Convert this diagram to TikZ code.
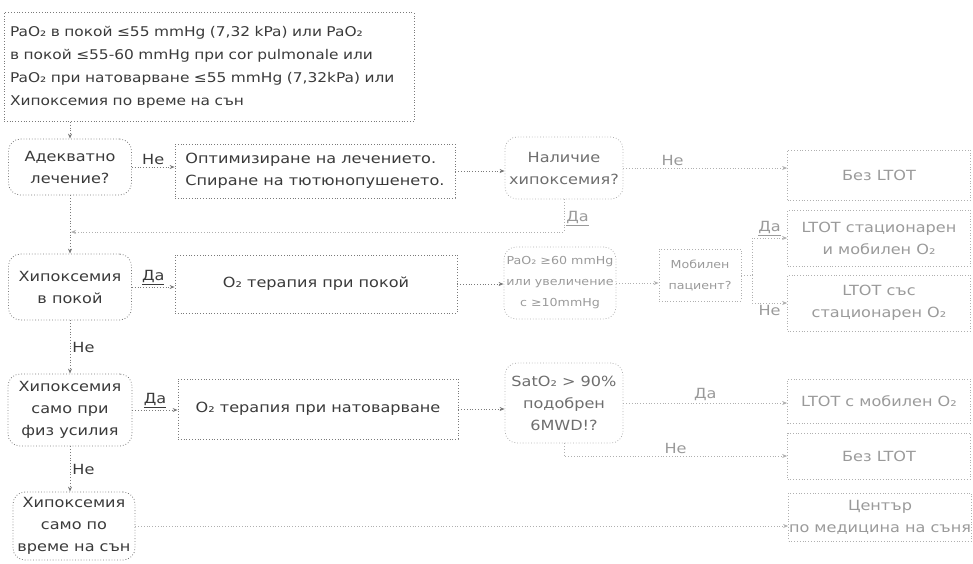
\documentclass[tikz,border=0pt]{standalone}
\usepackage{fontspec}
\setmainfont{DejaVu Sans}[FakeStretch=1.15]
\usepackage{tikz}
\usetikzlibrary{arrows.meta,positioning}
\definecolor{inkG}{HTML}{3A3A3A}
\definecolor{inkM}{HTML}{6E6E6E}
\definecolor{inkL}{HTML}{9A9A9A}
\definecolor{lnG}{HTML}{7A7A7A}
\definecolor{lnL}{HTML}{B0B0B0}
\tikzset{
  sqbox/.style={draw=lnG, dotted, line width=0.8pt, text=inkG, align=center,
        inner sep=0pt, font=\fontsize{14}{22}\selectfont},
  rndbox/.style={sqbox, rounded corners=12pt},
  midbox/.style={draw=lnL, text=inkM},
  fbox/.style={draw=lnL, text=inkL},
  smallt/.style={font=\fontsize{11}{21}\selectfont},
  flow/.style={draw=lnG, dotted, line width=0.8pt, -{Stealth[length=5pt,width=4pt]}},
  fflow/.style={flow, draw=lnL},
  tag/.style={text=inkG, font=\fontsize{14}{16}\selectfont, inner sep=2pt},
  ftag/.style={tag, text=inkL},
}

\begin{document}
\begin{tikzpicture}[x=1pt, y=-1pt]
  \useasboundingbox (0,0) rectangle (973,563);

  \node[sqbox, font=\fontsize{13.4}{23}\selectfont, minimum width=410, minimum height=109,
        text width=398, align=left] (crit) at (209,67) {
    PaO₂ в покой ≤55 mmHg (7,32 kPa) или PaO₂\\
    в покой ≤55-60 mmHg при cor pulmonale или\\
    PaO₂ при натоварване ≤55 mmHg (7,32kPa) или\\
    Хипоксемия по време на сън};

  \node[rndbox, minimum width=123, minimum height=56] (adekv) at (70,167) {Адекватно\\лечение?};
  \node[sqbox, minimum width=280, minimum height=54, align=left] (optim) at (315,171)
    {Оптимизиране на лечението.\\Спиране на тютюнопушенето.};
  \node[rndbox, midbox, minimum width=118, minimum height=62] (nalich) at (564,168) {Наличие\\хипоксемия?};
  \node[sqbox, fbox, minimum width=183, minimum height=50] (bez1) at (879,175) {Без LTOT};

  \node[rndbox, minimum width=123, minimum height=66] (hrest) at (70,287) {Хипоксемия\\в покой};
  \node[sqbox, minimum width=282, minimum height=58] (o2rest) at (316,284) {O₂ терапия при покой};
  \node[rndbox, fbox, smallt, minimum width=112, minimum height=72] (pao) at (560,283)
    {PaO₂ ≥60 mmHg\\или увеличение\\с ≥10mmHg};
  \node[sqbox, fbox, smallt, minimum width=82, minimum height=52] (mobil) at (700,275) {Мобилен\\пациент?};
  \node[sqbox, fbox, minimum width=183, minimum height=56] (ltotsm) at (879,238) {LTOT стационарен\\и мобилен O₂};
  \node[sqbox, fbox, minimum width=183, minimum height=56] (ltots) at (879,303) {LTOT със\\стационарен O₂};

  \node[rndbox, minimum width=124, minimum height=72] (hphys) at (70,410) {Хипоксемия\\само при\\физ усилия};
  \node[sqbox, minimum width=280, minimum height=60] (o2ex) at (318,409) {O₂ терапия при натоварване};
  \node[rndbox, midbox, minimum width=118, minimum height=80] (sat) at (564,403) {SatO₂ > 90\%\\подобрен\\6MWD!?};
  \node[sqbox, fbox, minimum width=183, minimum height=44] (ltotm) at (879,401) {LTOT с мобилен O₂};
  \node[sqbox, fbox, minimum width=183, minimum height=46] (bez2) at (879,456) {Без LTOT};

  \node[rndbox, minimum width=122, minimum height=68] (hsleep) at (74,526) {Хипоксемия\\само по\\време на сън};
  \node[sqbox, fbox, minimum width=183, minimum height=48] (sleepc) at (880,517) {Център\\по медицина на съня};

  \coordinate (join) at (71,232);
  \coordinate (fork) at (752,275);

  \draw[flow] (adekv.north |- crit.south) -- (adekv.north);
  \draw[flow] (adekv.east) -- node[tag, above]{Не} (adekv.east -| optim.west);
  \draw[flow] (optim.east) -- (optim.east -| nalich.west);
  \draw[fflow] (nalich.east) -- node[ftag, above, pos=0.3]{Не} (nalich.east -| bez1.west);
  \draw[fflow] (nalich.south) |- node[ftag, right, pos=0.3]{\underline{Да}} (join);
  \draw[flow] (adekv.south) -- (hrest.north);

  \draw[flow] (hrest.east) -- node[tag, above]{\underline{Да}} (hrest.east -| o2rest.west);
  \draw[flow] (o2rest.east) -- (o2rest.east -| pao.west);
  \draw[fflow] (pao.east) -- (pao.east -| mobil.west);
  \draw[draw=lnL, dotted, line width=0.8pt] (mobil.east) -- (fork);
  \draw[fflow] (fork) |- node[ftag, above, pos=0.75]{\underline{Да}} (ltotsm.west);
  \draw[fflow] (fork) |- node[ftag, below, pos=0.75]{Не} (ltots.west);

  \draw[flow] (hrest.south) -- node[tag, right]{Не} (hphys.north);
  \draw[flow] (hphys.east) -- node[tag, above]{\underline{Да}} (hphys.east -| o2ex.west);
  \draw[flow] (o2ex.east) -- (o2ex.east -| sat.west);
  \draw[fflow] (sat.east) -- node[ftag, above]{Да} (sat.east -| ltotm.west);
  \draw[fflow] (sat.south) |- node[ftag, above, pos=0.75]{Не} (bez2.west);

  \draw[flow] (hphys.south) -- node[tag, right]{Не} (hphys.south |- hsleep.north);
  \draw[fflow] (hsleep.east) -- (hsleep.east -| sleepc.west);
\end{tikzpicture}
\end{document}
